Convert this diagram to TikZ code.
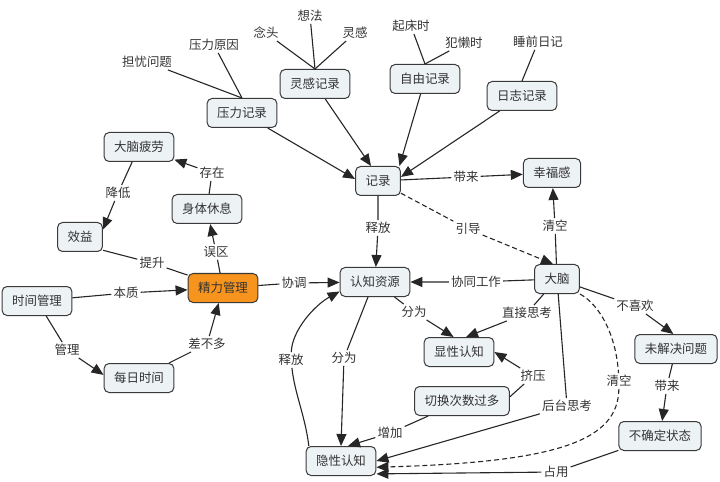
\documentclass[tikz,border=0pt]{standalone}
\usepackage{fontspec}
\setmainfont{Noto Sans CJK SC}
\usetikzlibrary{arrows.meta}

\definecolor{boxfill}{HTML}{EDF2F5}
\definecolor{boxline}{HTML}{3A3A3A}
\definecolor{hotfill}{HTML}{F7941D}
\definecolor{txt}{HTML}{333333}

\begin{document}
\begin{tikzpicture}[x=1bp,y=-1bp,
    font=\fontsize{12.5}{14}\selectfont, text=txt,
    concept/.style={draw=boxline,fill=boxfill,line width=1bp,rounded corners=5bp,
      minimum height=29bp,inner xsep=10bp,inner ysep=2bp},
    hot/.style={concept,fill=hotfill},
    phrase/.style={inner sep=2bp},
    link/.style={draw=black!85,line width=1.1bp},
    arr/.style={link,-{Triangle[length=12bp,width=10bp]}},
    dashlink/.style={dash pattern=on 5bp off 3bp}]

    \useasboundingbox (0,0) rectangle (720,482);

    \node[hot] (jingli) at (223,288) {精力管理};
    \node[concept] (shijian) at (37,301) {时间管理};
    \node[concept] (meiri) at (139,378) {每日时间};
    \node[concept] (xiaoyi) at (80,237) {效益};
    \node[concept] (pilao) at (139,147) {大脑疲劳};
    \node[concept] (xiuxi) at (207,209) {身体休息};
    \node[concept] (yali) at (242,113) {压力记录};
    \node[concept] (linggan) at (315,84) {灵感记录};
    \node[concept] (ziyou) at (425,79) {自由记录};
    \node[concept] (rizhi) at (522,96) {日志记录};
    \node[concept] (jilu) at (378,181) {记录};
    \node[concept] (xingfu) at (552,173) {幸福感};
    \node[concept] (renzhi) at (375,282) {认知资源};
    \node[concept] (danao) at (557,279) {大脑};
    \node[concept] (xianxing) at (459,352) {显性认知};
    \node[concept] (qiehuan) at (462,401) {切换次数过多};
    \node[concept] (yinxing) at (341,461) {隐性认知};
    \node[concept] (weijie) at (676,349) {未解决问题};
    \node[concept] (buqd) at (660,436) {不确定状态};

    \node[phrase] (danyou) at (147,62) {担忧问题};
    \node[phrase] (yuanyin) at (214,45) {压力原因};
    \node[phrase] (niantou) at (266,33) {念头};
    \node[phrase] (xiangfa) at (310,16) {想法};
    \node[phrase] (lg) at (355,33) {灵感};
    \node[phrase] (qichuang) at (411,26) {起床时};
    \node[phrase] (fanlan) at (464,43) {犯懒时};
    \node[phrase] (shuiqian) at (538,42) {睡前日记};

    \node[phrase] (lCunzai) at (212,173) {存在};
    \node[phrase] (lJiangdi) at (118,193) {降低};
    \node[phrase] (lTisheng) at (152,263) {提升};
    \node[phrase] (lWuqu) at (216,252) {误区};
    \node[phrase] (lBenzhi) at (126,293) {本质};
    \node[phrase] (lGuanli) at (67,350) {管理};
    \node[phrase] (lChabuduo) at (207,344) {差不多};
    \node[phrase] (lXietiao) at (294,283) {协调};
    \node[phrase] (lShifangA) at (378,228) {释放};
    \node[phrase] (lShifangB) at (291,360) {释放};
    \node[phrase] (lFenweiA) at (344,358) {分为};
    \node[phrase] (lFenweiB) at (414,312) {分为};
    \node[phrase] (lXietong) at (476,282) {协同工作};
    \node[phrase] (lZhijie) at (527,313) {直接思考};
    \node[phrase] (lJiya) at (533,376) {挤压};
    \node[phrase] (lZengjia) at (390,433) {增加};
    \node[phrase] (lHoutai) at (567,406) {后台思考};
    \node[phrase] (lQingkongA) at (555,226) {清空};
    \node[phrase] (lQingkongB) at (619,381) {清空};
    \node[phrase] (lBuxihuan) at (635,306) {不喜欢};
    \node[phrase] (lDailaiA) at (466,177) {带来};
    \node[phrase] (lDailaiB) at (667,386) {带来};
    \node[phrase] (lYindao) at (468,229) {引导};
    \node[phrase] (lZhanyong) at (556,472) {占用};

    \draw[link] (danyou) -- (yali.north);
    \draw[link] (yuanyin) -- (yali.north);
    \draw[link] (niantou) -- (linggan.north);
    \draw[link] (xiangfa) -- (linggan.north);
    \draw[link] (lg) -- (linggan.north);
    \draw[link] (qichuang) -- (ziyou.north);
    \draw[link] (fanlan) -- (ziyou.north);
    \draw[link] (shuiqian) -- (rizhi.north);

    \draw[arr] (yali) -- (jilu.175);
    \draw[arr] (linggan) -- (jilu.115);
    \draw[arr] (ziyou) -- (jilu.35);
    \draw[arr] (rizhi) -- (jilu.10);

    \draw[arr] (jilu) -- (lDailaiA) -- (xingfu);
    \draw[arr] (jilu) -- (lShifangA) -- (renzhi);
    \draw[arr,dashlink] (jilu) -- (lYindao) -- (danao.105);
    \draw[arr] (danao) -- (lQingkongA) -- (xingfu);
    \draw[arr] (danao) -- (lXietong) -- (renzhi);
    \draw[arr] (danao) -- (lZhijie) -- (xianxing.65);
    \draw[arr] (renzhi) -- (lFenweiB) -- (xianxing.110);
    \draw[arr] (renzhi.-115) -- (lFenweiA) -- (yinxing.north);
    \draw[link] (yinxing.155) .. controls (305,415) and (295,395) .. (lShifangB);
    \draw[arr] (lShifangB) .. controls (292,330) and (315,305) .. (renzhi.195);
    \draw[arr] (qiehuan.5) -- (lJiya) -- (xianxing.east);
    \draw[arr] (qiehuan) -- (lZengjia) -- (yinxing.65);
    \draw[arr] (danao) -- (lHoutai) -- (yinxing.east);
    \draw[link,dashlink] (danao.south east) .. controls (600,305) and (616,335) .. (lQingkongB);
    \draw[arr,dashlink] (lQingkongB) .. controls (618,440) and (560,462) .. (yinxing.-10);
    \draw[arr] (buqd) -- (lZhanyong) -- (yinxing.-20);
    \draw[arr] (danao) -- (lBuxihuan) -- (weijie.100);
    \draw[arr] (weijie) -- (lDailaiB) -- (buqd);

    \draw[arr] (xiuxi) -- (lCunzai) -- (pilao);
    \draw[arr] (pilao) -- (lJiangdi) -- (xiaoyi.18);
    \draw[link] (xiaoyi.-30) -- (lTisheng) -- (jingli.160);
    \draw[arr] (jingli) -- (lWuqu) -- (xiuxi);
    \draw[arr] (shijian) -- (lBenzhi) -- (jingli);
    \draw[arr] (shijian) -- (lGuanli) -- (meiri.175);
    \draw[arr] (meiri) -- (lChabuduo) -- (jingli);
    \draw[arr] (jingli) -- (lXietiao) -- (renzhi);
\end{tikzpicture}
\end{document}
